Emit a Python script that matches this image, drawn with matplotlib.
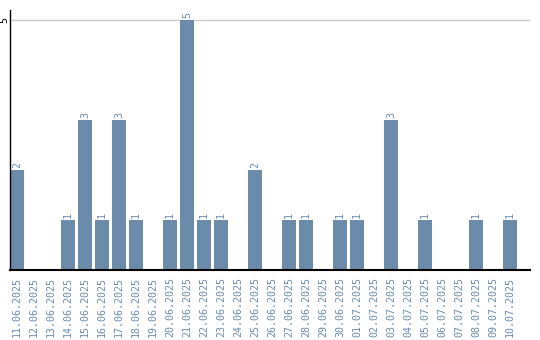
import matplotlib
matplotlib.use("Agg")
import matplotlib.pyplot as plt

dates = ["11.06.2025", "12.06.2025", "13.06.2025", "14.06.2025", "15.06.2025",
         "16.06.2025", "17.06.2025", "18.06.2025", "19.06.2025", "20.06.2025",
         "21.06.2025", "22.06.2025", "23.06.2025", "24.06.2025", "25.06.2025",
         "26.06.2025", "27.06.2025", "28.06.2025", "29.06.2025", "30.06.2025",
         "01.07.2025", "02.07.2025", "03.07.2025", "04.07.2025", "05.07.2025",
         "06.07.2025", "07.07.2025", "08.07.2025", "09.07.2025", "10.07.2025"]
counts = [2, 0, 0, 1, 3, 1, 3, 1, 0, 1, 5, 1, 1, 0, 2, 0, 1, 1, 0, 1,
          1, 0, 3, 0, 1, 0, 0, 1, 0, 1]

bar_color = "#6a8caa"
text_color = "#6a8caf"

fig = plt.figure(figsize=(5.4, 3.4), dpi=100)
ax = fig.add_axes([10/540, 70/340, 520/540, 260/340])
x = list(range(len(dates)))
ax.bar(x, counts, width=0.82, color=bar_color, zorder=2)
for xi, v in zip(x, counts):
    if v > 0:
        ax.text(xi, v + 0.04, str(v), rotation=90, ha="center", va="bottom",
                fontsize=7.2, family="DejaVu Sans Mono", color=text_color)
ax.set_xlim(-0.41, 30.18)
ax.set_ylim(0, 5.2)
ax.set_yticks([5])
ax.set_yticklabels(["5"], rotation=90, va="center", fontsize=7.2,
                   family="DejaVu Sans Mono")
ax.tick_params(axis="y", length=0, pad=0.5)
ax.axhline(5, color="#cccccc", lw=1, zorder=1)
ax.set_xticks(x)
ax.set_xticklabels(dates, rotation=90, fontsize=7.2, family="DejaVu Sans Mono",
                   color=text_color)
ax.tick_params(axis="x", length=0, pad=5)
for s in ["top", "right"]:
    ax.spines[s].set_visible(False)
ax.spines["left"].set_color("black")
ax.spines["bottom"].set_color("black")
ax.spines["left"].set_linewidth(1)
ax.spines["bottom"].set_linewidth(1.5)
fig.savefig("out.png", dpi=100)
